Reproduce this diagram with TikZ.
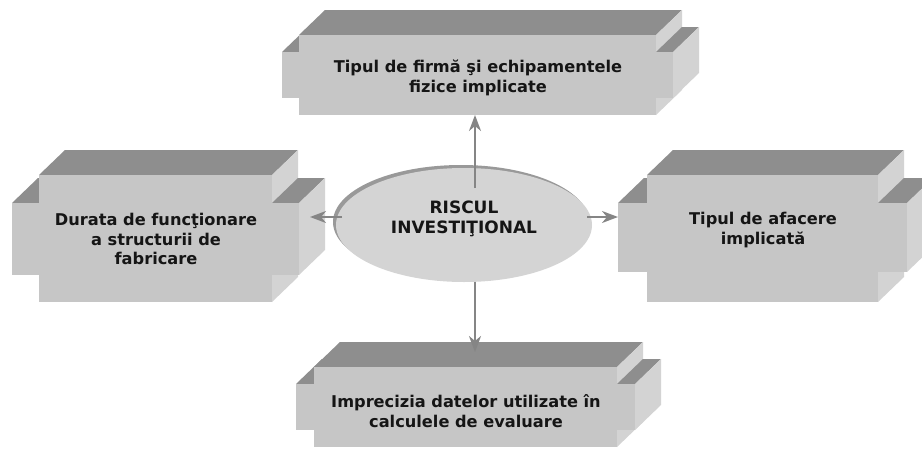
\documentclass[tikz,border=0pt]{standalone}
\usepackage{fontspec}
\setmainfont{DejaVu Sans}
\usetikzlibrary{shapes.geometric,arrows.meta}

\definecolor{frontgray}{HTML}{C6C6C6}
\definecolor{topgray}{HTML}{8E8E8E}
\definecolor{sidegray}{HTML}{D3D3D3}
\definecolor{ellfill}{HTML}{D4D4D4}
\definecolor{ellrim}{HTML}{999999}
\definecolor{arrowgray}{HTML}{858585}
\definecolor{inkgray}{HTML}{151515}

% depth of the extruded blocks (right, up)
\def\bdx{26}
\def\bdy{25}

% Cross-shaped extruded block.
% #1 name, #2 x1, #3 y1, #4 x2, #5 y2 (central face),
% #6 arm outset, #7 arm top, #8 arm bottom
\newcommand\blockbox[8]{%
  \pgfmathsetmacro\bxa{#2-#6}%
  \pgfmathsetmacro\bxb{#4+#6}%
  % top of the left arm
  \fill[topface] (\bxa,#7) -- (#2,#7) -- ({#2+\bdx},{#7-\bdy}) -- ({\bxa+\bdx},{#7-\bdy}) -- cycle;
  % top and side of the central block
  \fill[topface] (#2,#3) -- (#4,#3) -- ({#4+\bdx},{#3-\bdy}) -- ({#2+\bdx},{#3-\bdy}) -- cycle;
  \fill[sideface] (#4,#3) -- ({#4+\bdx},{#3-\bdy}) -- ({#4+\bdx},{#5-\bdy}) -- (#4,#5) -- cycle;
  % right arm: top, side, front
  \fill[topface] (#4,#7) -- (\bxb,#7) -- ({\bxb+\bdx},{#7-\bdy}) -- ({#4+\bdx},{#7-\bdy}) -- cycle;
  \fill[sideface] (\bxb,#7) -- ({\bxb+\bdx},{#7-\bdy}) -- ({\bxb+\bdx},{#8-\bdy}) -- (\bxb,#8) -- cycle;
  \fill[frontface] (#4,#7) rectangle (\bxb,#8);
  % left arm front
  \fill[frontface] (\bxa,#7) rectangle (#2,#8);
  % central front face
  \node[frontface, inner sep=0pt, outer sep=0pt, anchor=north west,
        minimum width={(#4-#2)*1pt}, minimum height={(#5-#3)*1pt}] (#1) at (#2,#3) {};
}

\begin{document}
\begin{tikzpicture}[x=1pt, y=-1pt,
  frontface/.style={fill=frontgray},
  topface/.style={fill=topgray},
  sideface/.style={fill=sidegray},
  boxtext/.style={align=center, text=inkgray, inner sep=0pt,
                  font=\bfseries\fontsize{16.2}{19.5}\selectfont},
  centertext/.style={align=center, text=inkgray, inner sep=0pt,
                  font=\bfseries\fontsize{17}{20}\selectfont},
  link/.style={draw=arrowgray, line width=2.2pt,
               -{Stealth[length=16pt, width=12pt, inset=5pt]}}]

\useasboundingbox (0,0) rectangle (922,450);

% the four blocks
\blockbox{tb}{299}{35}{656}{115}{17}{52}{98}
\blockbox{lb}{39}{175}{272}{302}{27}{203}{275}
\blockbox{rb}{647}{175}{878}{302}{29}{203}{272}
\blockbox{bb}{314}{367}{617}{447}{18}{384}{430}

% block labels
\node[boxtext] (tbt) at (478,78) {Tipul de firmă şi echipamentele\\fizice implicate};
\node[boxtext] (lbt) at (156,239) {Durata de funcţionare\\a structurii de\\fabricare};
\node[boxtext] (rbt) at (763,230) {Tipul de afacere\\implicată};
\node[boxtext] (bbt) at (466,411) {Imprecizia datelor utilizate în\\calculele de evaluare};

% central ellipse with its rim
\node[ellipse, fill=ellrim, minimum width=256pt, minimum height=114pt, inner sep=0pt] (rim) at (461,222) {};
\node[ellipse, fill=ellfill, minimum width=256pt, minimum height=114pt, inner sep=0pt] (ell) at (464,225) {};

% connectors leaving the ellipse
\coordinate (up0) at (475,188);
\coordinate (dn0) at (475,282);
\coordinate (lf0) at (342,217);
\coordinate (rt0) at (587,217);

\draw[link] (up0) -- (tb.south -| up0);
\draw[link, shorten >=15pt] (dn0) -- (bb.north -| dn0);
\draw[link, shorten >=38pt] (lf0) -- (lb.east |- lf0);
\draw[link, shorten >=29pt] (rt0) -- (rb.west |- rt0);

\node[centertext] (ellt) at (464,219) {RISCUL\\INVESTIŢIONAL};

\end{tikzpicture}
\end{document}
